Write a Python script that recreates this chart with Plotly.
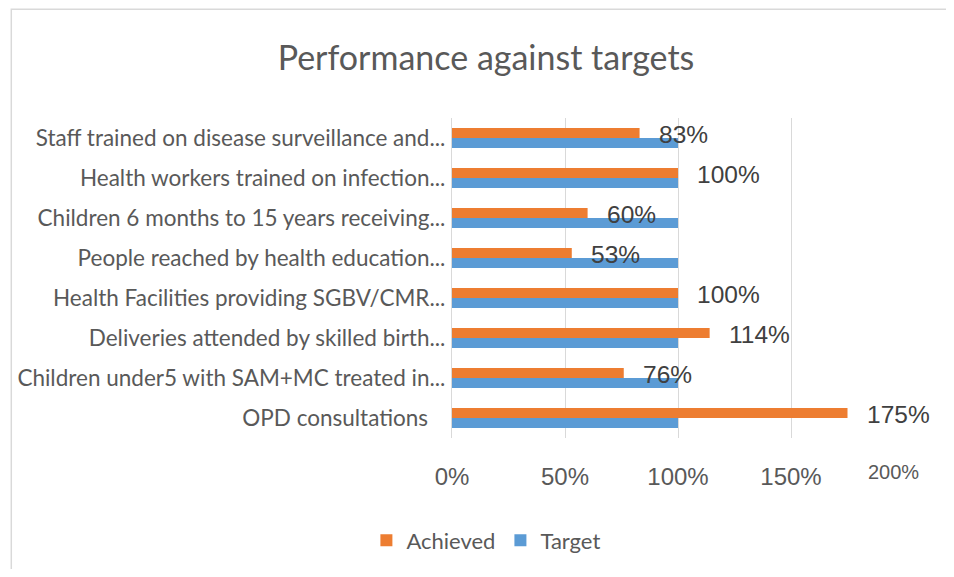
import plotly.graph_objects as go

categories = [
    "Staff trained on disease surveillance and...",
    "Health workers trained on infection...",
    "Children 6 months to 15 years receiving...",
    "People reached by health education...",
    "Health Facilities providing SGBV/CMR...",
    "Deliveries attended by skilled birth...",
    "Children under5 with SAM+MC treated in...",
    "OPD consultations\u00a0\u00a0\u00a0",
]
achieved = [83, 100, 60, 53, 100, 114, 76, 175]
target = [100, 100, 100, 100, 100, 100, 100, 100]
tick_vals = [0, 50, 100, 150, 200]
tick_text = ["0%", "50%", "100%", "150%", "200%"]

ORANGE = "#ED7D31"
BLUE = "#5B9BD5"
GREY = "#595959"
GRID = "#D9D9D9"

fig = go.Figure()
fig.add_bar(y=categories, x=achieved, orientation="h", name="Achieved",
            marker=dict(color=ORANGE, line_width=0))
fig.add_bar(y=categories, x=target, orientation="h", name="Target",
            marker=dict(color=BLUE, line_width=0))

# data labels for the achieved series
for cat, val in zip(categories, achieved):
    fig.add_annotation(x=val, y=cat, text=f"{val}%", showarrow=False,
                       xanchor="left", yanchor="middle", xshift=17, yshift=4,
                       font=dict(family="Liberation Sans", size=24.5, color="#404040"))

# last tick label is drawn smaller and a bit higher in the original
fig.add_annotation(x=tick_vals[-1], y=0, yref="paper", text=tick_text[-1],
                   showarrow=False, xanchor="center", yanchor="middle",
                   xshift=-11, yshift=-34,
                   font=dict(family="Liberation Sans", size=20, color=GREY))

# chart frame
fig.add_shape(type="rect", xref="paper", yref="paper",
              x0=-0.975, x1=1.3, y0=-0.6, y1=1.34,
              line=dict(color=GRID, width=1.5), layer="below")

fig.update_layout(
    width=938, height=561,
    autosize=False,
    paper_bgcolor="white", plot_bgcolor="white",
    barmode="group", bargap=0.5, bargroupgap=0,
    margin=dict(l=444, r=42, t=110, b=131, autoexpand=False),
    title=dict(text="Performance against targets", x=0.5096, xanchor="center",
               y=0.911, yanchor="middle",
               font=dict(family="Lato", size=34, color=GREY)),
    font=dict(family="Lato", color=GREY),
    xaxis=dict(range=[0, 200], tickvals=tick_vals, ticktext=tick_text[:-1] + [""],
               showgrid=True, gridcolor=GRID, gridwidth=1.2, zeroline=False,
               showline=False, ticks="", ticklabelstandoff=22, automargin=False,
               tickfont=dict(family="Liberation Sans", size=24, color=GREY)),
    yaxis=dict(autorange="reversed", showgrid=False, zeroline=False,
               showline=True, linecolor=GRID, linewidth=1.2, ticks="",
               ticklabelstandoff=1, automargin=False,
               tickfont=dict(family="Lato", size=22.5, color=GREY)),
    legend=dict(orientation="h", x=0.075, xanchor="center", y=-0.32,
                yanchor="middle", font=dict(family="Lato", size=22, color=GREY),
                traceorder="normal", itemwidth=30),
    showlegend=True,
)

fig.write_html("out.html")
